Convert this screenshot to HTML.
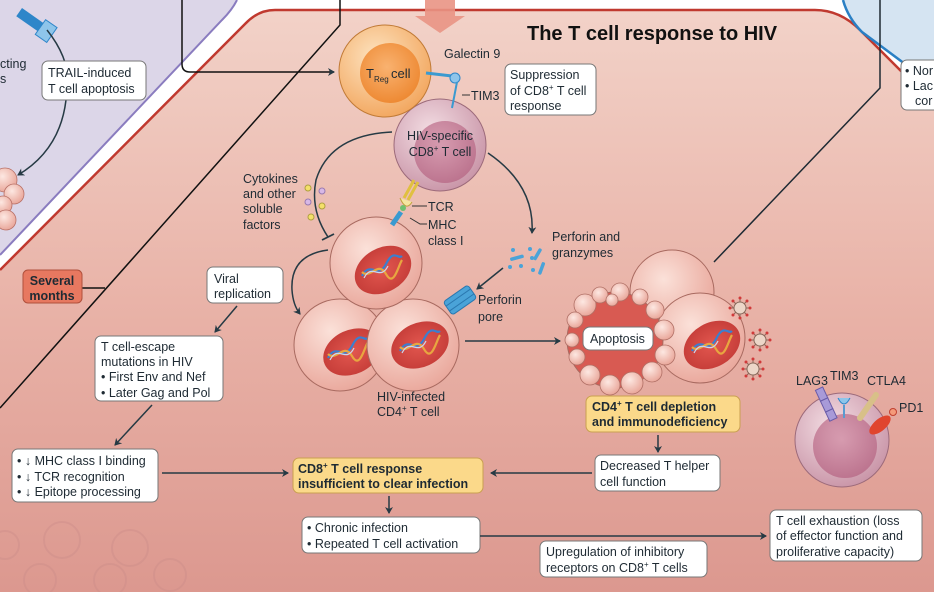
<!DOCTYPE html>
<html><head><meta charset="utf-8"><style>
html,body{margin:0;padding:0;background:#fff}
svg{display:block}
text{font-family:"Liberation Sans",sans-serif;fill:#1e2a33}
.l{font-size:12.5px}
.b{font-weight:bold}
</style></head><body>
<svg width="934" height="592" viewBox="0 0 934 592" xmlns="http://www.w3.org/2000/svg">
<defs>
<linearGradient id="bg" x1="0" y1="0" x2="0" y2="1">
<stop offset="0" stop-color="#f2d2c8"/><stop offset="0.5" stop-color="#e9b3a8"/><stop offset="1" stop-color="#dc988f"/></linearGradient>
<radialGradient id="cell" cx="0.4" cy="0.35" r="0.7"><stop offset="0" stop-color="#fbe1d9"/><stop offset="1" stop-color="#e9a69a"/></radialGradient>
<radialGradient id="nuc" cx="0.5" cy="0.5" r="0.6"><stop offset="0" stop-color="#e2574f"/><stop offset="1" stop-color="#c23a36"/></radialGradient>
<radialGradient id="treg" cx="0.4" cy="0.35" r="0.7"><stop offset="0" stop-color="#fde3c0"/><stop offset="1" stop-color="#f2a55c"/></radialGradient>
<radialGradient id="tregin" cx="0.45" cy="0.4" r="0.6"><stop offset="0" stop-color="#f9b270"/><stop offset="1" stop-color="#ee8a34"/></radialGradient>
<radialGradient id="cd8" cx="0.4" cy="0.35" r="0.7"><stop offset="0" stop-color="#f3dde3"/><stop offset="1" stop-color="#c893a6"/></radialGradient>
<radialGradient id="cd8in" cx="0.45" cy="0.4" r="0.6"><stop offset="0" stop-color="#d28fa6"/><stop offset="1" stop-color="#b86a87"/></radialGradient>
<radialGradient id="bleb" cx="0.4" cy="0.35" r="0.7"><stop offset="0" stop-color="#fde8e2"/><stop offset="1" stop-color="#e8a396"/></radialGradient>
<marker id="ar" markerWidth="8" markerHeight="8" refX="6" refY="4" orient="auto" markerUnits="userSpaceOnUse"><path d="M0,0 L7,4 L0,8 L2,4 Z" fill="#263a44"/></marker>
<g id="dna"><path d="M-20,8 C-12,-8 -4,12 4,-4 S16,-8 20,-12" stroke="#3a7fd0" stroke-width="2.2" fill="none"/><path d="M-20,4 C-12,12 -4,-8 4,6 S16,-2 20,-8" stroke="#e8a640" stroke-width="2.2" fill="none"/><path d="M-18,10 C-10,-6 -2,14 6,-2" stroke="#c8d8f0" stroke-width="1.2" fill="none"/></g>
<g id="vir"><circle r="6" fill="#ecd6c8" stroke="#8a6a5c" stroke-width="1"/><g stroke="#8a6a5c" stroke-width="1"><line x1="0" y1="-6" x2="0" y2="-10"/><line x1="0" y1="6" x2="0" y2="10"/><line x1="-6" y1="0" x2="-10" y2="0"/><line x1="6" y1="0" x2="10" y2="0"/><line x1="4" y1="4" x2="7" y2="7"/><line x1="-4" y1="-4" x2="-7" y2="-7"/><line x1="4" y1="-4" x2="7" y2="-7"/><line x1="-4" y1="4" x2="-7" y2="7"/></g><g fill="#d03a3a"><circle cx="0" cy="-10" r="1.5"/><circle cx="0" cy="10" r="1.5"/><circle cx="-10" cy="0" r="1.5"/><circle cx="10" cy="0" r="1.5"/><circle cx="7" cy="7" r="1.5"/><circle cx="-7" cy="-7" r="1.5"/><circle cx="7" cy="-7" r="1.5"/><circle cx="-7" cy="7" r="1.5"/></g></g>
</defs>
<rect width="934" height="592" fill="#fff"/>
<path d="M0,0 L237,0 Q232,10 222,20 L0,255 Z" fill="#dcd6e8"/>
<path d="M237,0 Q232,10 222,20 L0,255" fill="none" stroke="#8a7cbf" stroke-width="2"/>
<path d="M275,10 L815,10 Q840,10 860,30 L902,72 L934,95 L934,592 L0,592 L0,270 L245,24 Q258,10 275,10 Z" fill="url(#bg)"/>
<path d="M0,270 L245,24 Q258,10 275,10 L815,10 Q840,10 860,30 L902,72 L934,95" fill="none" stroke="#c0392f" stroke-width="2.5"/>
<path d="M843,0 Q848,18 862,32 L900,62 L934,62 L934,0 Z" fill="#d5e4f2"/>
<path d="M843,0 Q848,18 862,32 L905,64" fill="none" stroke="#2a7fc4" stroke-width="2.5"/>
<g fill="none" stroke="#c98a88" stroke-width="2" opacity="0.35">
<circle cx="62" cy="540" r="18"/><circle cx="130" cy="548" r="18"/><circle cx="40" cy="580" r="16"/><circle cx="110" cy="580" r="16"/><circle cx="170" cy="575" r="16"/><circle cx="5" cy="545" r="14"/></g>
<path d="M182,0 L182,64 Q182,72 190,72 L334,72" fill="none" stroke="#111" stroke-width="1.5" marker-end="url(#ar)"/>
<path d="M340,0 L340,25 L0,408" fill="none" stroke="#111" stroke-width="1.5"/>
<path d="M880,0 L880,88 L714,262" fill="none" stroke="#1e2a33" stroke-width="1.5"/>
<line x1="82" y1="288" x2="105" y2="288" stroke="#111" stroke-width="1.5"/>
<path d="M425,0 L455,0 L455,16 L465,16 L440,33 L415,16 L425,16 Z" fill="#e99484" opacity="0.9"/>
<text x="527" y="40" font-size="20" class="b" style="fill:#111">The T cell response to HIV</text>
<text x="0" y="68" class="l">cting</text><text x="0" y="83" class="l">s</text>
<g transform="translate(22,8) rotate(35)"><rect x="0" y="0" width="30" height="10" fill="#2e86c9"/><rect x="26" y="-4" width="14" height="18" fill="#8ec5ea" stroke="#2e86c9"/></g>
<path d="M47,30 Q75,65 66,100 M66,100 Q60,150 18,175" fill="none" stroke="#263a44" stroke-width="1.5" marker-end="url(#ar)"/>
<rect x="42" y="61" width="104" height="39" rx="6" fill="#fff" stroke="#777"/>
<text x="48" y="77" class="l">TRAIL-induced</text><text x="48" y="93" class="l">T cell apoptosis</text>
<g fill="url(#bleb)" stroke="#b87066" stroke-width="0.8"><circle cx="5" cy="180" r="12"/><circle cx="14" cy="194" r="10"/><circle cx="3" cy="205" r="9"/><circle cx="6" cy="220" r="10"/></g>
<rect x="23" y="270" width="59" height="33" rx="5" fill="#e77860" stroke="#b0503c"/>
<text x="52" y="285" text-anchor="middle" font-size="12.5" class="b">Several</text><text x="52" y="300" text-anchor="middle" font-size="12.5" class="b">months</text>
<circle cx="440" cy="145" r="46" fill="url(#cd8)" stroke="#9c6a7a"/>
<circle cx="445" cy="152" r="31" fill="url(#cd8in)" opacity="0.8"/>
<circle cx="385" cy="71" r="46" fill="url(#treg)" stroke="#c07a36"/>
<circle cx="390" cy="73" r="30" fill="url(#tregin)"/>
<text x="366" y="78" font-size="13">T</text><text x="374" y="82" font-size="8">Reg</text><text x="391" y="78" font-size="13">cell</text>
<path d="M426,73 L452,76" stroke="#3a9ad0" stroke-width="3"/><circle cx="455" cy="78" r="5" fill="#8ec5ea" stroke="#2e86c9"/>
<path d="M457,82 L452,108" stroke="#3a9ad0" stroke-width="2"/>
<text x="444" y="58" class="l">Galectin 9</text>
<line x1="462" y1="95" x2="470" y2="95" stroke="#333"/><text x="471" y="100" class="l">TIM3</text>
<rect x="505" y="64" width="91" height="51" rx="6" fill="#fff" stroke="#777"/>
<text x="510" y="79" class="l">Suppression</text><text x="510" y="95" class="l">of CD8<tspan font-size="8" dy="-5">+</tspan><tspan dy="5"> T cell</tspan></text><text x="510" y="110" class="l">response</text>
<text x="440" y="140" text-anchor="middle" class="l">HIV-specific</text><text x="440" y="156" text-anchor="middle" class="l">CD8<tspan font-size="8" dy="-5">+</tspan><tspan dy="5"> T cell</tspan></text>
<text x="243" y="183" class="l">Cytokines</text><text x="243" y="198" class="l">and other</text><text x="243" y="213" class="l">soluble</text><text x="243" y="229" class="l">factors</text>
<g stroke-width="1"><circle cx="308" cy="188" r="3" fill="#f4e06a" stroke="#b0a040"/><circle cx="322" cy="191" r="3" fill="#d8b8e6" stroke="#9a7ab0"/><circle cx="308" cy="202" r="3" fill="#d8b8e6" stroke="#9a7ab0"/><circle cx="322" cy="206" r="3" fill="#f4e06a" stroke="#b0a040"/><circle cx="311" cy="217" r="3" fill="#f4e06a" stroke="#b0a040"/></g>
<path d="M392,132 Q330,135 316,180 Q310,210 328,237" fill="none" stroke="#263a44" stroke-width="1.5"/>
<line x1="322" y1="240" x2="334" y2="234" stroke="#263a44" stroke-width="1.8"/>
<path d="M488,153 Q535,185 532,233" fill="none" stroke="#263a44" stroke-width="1.5" marker-end="url(#ar)"/>
<text x="552" y="241" class="l">Perforin and</text><text x="552" y="257" class="l">granzymes</text>
<g fill="#4aa3d8"><circle cx="513" cy="250" r="2"/><circle cx="530" cy="249" r="2"/><circle cx="532" cy="258" r="2"/><circle cx="510" cy="267" r="2"/><circle cx="521" cy="266" r="2"/><circle cx="533" cy="270" r="2"/><rect x="510" y="256" width="14" height="3.5" rx="1.5" transform="rotate(-15 517 258)"/><rect x="536" y="248" width="3.5" height="13" rx="1.5" transform="rotate(30 538 254)"/><rect x="540" y="262" width="3.5" height="13" rx="1.5" transform="rotate(20 542 268)"/></g>
<line x1="503" y1="268" x2="477" y2="289" stroke="#263a44" stroke-width="1.5" marker-end="url(#ar)"/>
<circle cx="340" cy="345" r="46" fill="url(#cell)" stroke="#a86a60"/>
<ellipse cx="352" cy="352" rx="30" ry="22" transform="rotate(-25 352 352)" fill="url(#nuc)"/>
<use href="#dna" x="348" y="350"/>
<circle cx="413" cy="345" r="46" fill="url(#cell)" stroke="#a86a60"/>
<ellipse cx="420" cy="345" rx="30" ry="22" transform="rotate(-25 420 345)" fill="url(#nuc)"/>
<use href="#dna" x="420" y="343"/>
<circle cx="376" cy="263" r="46" fill="url(#cell)" stroke="#a86a60"/>
<ellipse cx="383" cy="270" rx="30" ry="22" transform="rotate(-30 383 270)" fill="url(#nuc)"/>
<use href="#dna" x="382" y="268"/>
<path d="M418,182 L408,200 M414,180 L404,198" stroke="#e0c040" stroke-width="3"/>
<path d="M400,198 Q406,212 412,202" fill="#f4e6a0" stroke="#c0a040"/>
<circle cx="403" cy="208" r="3" fill="#6fc06f"/>
<path d="M401,212 L392,225" stroke="#3a9ad0" stroke-width="5"/>
<path d="M412,206 L418,206 L427,206" stroke="#333" fill="none"/><text x="428" y="211" class="l">TCR</text>
<path d="M410,218 L420,224 L427,224" stroke="#333" fill="none"/><text x="428" y="229" class="l">MHC</text><text x="428" y="245" class="l">class I</text>
<g transform="translate(460,300) rotate(-35)"><rect x="-15" y="-8" width="30" height="16" rx="3" fill="#4aa3d8" stroke="#2a78b0"/><line x1="-15" y1="-3" x2="15" y2="-3" stroke="#2a78b0"/><line x1="-15" y1="3" x2="15" y2="3" stroke="#2a78b0"/></g>
<text x="478" y="304" class="l">Perforin</text><text x="478" y="321" class="l">pore</text>
<path d="M328,250 Q290,255 292,290 Q293,305 300,314" fill="none" stroke="#263a44" stroke-width="1.5" marker-end="url(#ar)"/>
<rect x="207" y="267" width="76" height="36" rx="6" fill="#fff" stroke="#777"/>
<text x="214" y="283" class="l">Viral</text><text x="214" y="298" class="l">replication</text>
<text x="377" y="401" class="l">HIV-infected</text><text x="377" y="416" class="l">CD4<tspan font-size="8" dy="-5">+</tspan><tspan dy="5"> T cell</tspan></text>
<line x1="237" y1="306" x2="215" y2="332" stroke="#263a44" stroke-width="1.5" marker-end="url(#ar)"/>
<rect x="95" y="336" width="128" height="65" rx="6" fill="#fff" stroke="#777"/>
<text x="101" y="351" class="l">T cell-escape</text><text x="101" y="366" class="l">mutations in HIV</text><text x="101" y="381" class="l">• First Env and Nef</text><text x="101" y="397" class="l">• Later Gag and Pol</text>
<line x1="152" y1="405" x2="115" y2="445" stroke="#263a44" stroke-width="1.5" marker-end="url(#ar)"/>
<rect x="12" y="449" width="146" height="53" rx="6" fill="#fff" stroke="#777"/>
<text x="17" y="465" class="l">• ↓ MHC class I binding</text><text x="17" y="481" class="l">• ↓ TCR recognition</text><text x="17" y="496" class="l">• ↓ Epitope processing</text>
<line x1="162" y1="473" x2="288" y2="473" stroke="#263a44" stroke-width="1.5" marker-end="url(#ar)"/>
<rect x="293" y="458" width="190" height="35" rx="6" fill="#fbd98a" stroke="#c9a050"/>
<text x="298" y="473" font-size="12.5" class="b">CD8<tspan font-size="8" dy="-5">+</tspan><tspan dy="5"> T cell response</tspan></text>
<text x="298" y="488" font-size="12.5" class="b">insufficient to clear infection</text>
<line x1="389" y1="496" x2="389" y2="513" stroke="#263a44" stroke-width="1.5" marker-end="url(#ar)"/>
<rect x="302" y="517" width="178" height="36" rx="6" fill="#fff" stroke="#777"/>
<text x="307" y="532" class="l">• Chronic infection</text><text x="307" y="548" class="l">• Repeated T cell activation</text>
<line x1="480" y1="536" x2="766" y2="536" stroke="#263a44" stroke-width="1.5" marker-end="url(#ar)"/>
<rect x="540" y="541" width="167" height="36" rx="6" fill="#fff" stroke="#777"/>
<text x="546" y="556" class="l">Upregulation of inhibitory</text><text x="546" y="572" class="l">receptors on CD8<tspan font-size="8" dy="-5">+</tspan><tspan dy="5"> T cells</tspan></text>
<line x1="465" y1="341" x2="560" y2="341" stroke="#263a44" stroke-width="1.5" marker-end="url(#ar)"/>
<circle cx="672" cy="292" r="42" fill="url(#cell)" stroke="#a86a60"/>
<circle cx="700" cy="338" r="45" fill="url(#cell)" stroke="#a86a60"/>
<ellipse cx="712" cy="345" rx="30" ry="22" transform="rotate(-30 712 345)" fill="url(#nuc)"/>
<use href="#dna" x="712" y="343"/>
<circle cx="615" cy="340" r="48" fill="#d85a52" stroke="#a86a60"/>
<g fill="url(#bleb)" stroke="#b07066" stroke-width="0.8">
<circle cx="585" cy="305" r="11"/><circle cx="600" cy="295" r="8"/><circle cx="620" cy="292" r="9"/><circle cx="640" cy="297" r="8"/><circle cx="655" cy="310" r="9"/><circle cx="664" cy="330" r="10"/><circle cx="665" cy="355" r="10"/><circle cx="652" cy="372" r="10"/><circle cx="632" cy="383" r="11"/><circle cx="610" cy="385" r="10"/><circle cx="590" cy="375" r="10"/><circle cx="577" cy="357" r="8"/><circle cx="572" cy="340" r="7"/><circle cx="575" cy="320" r="8"/><circle cx="612" cy="300" r="6"/></g>
<rect x="583" y="327" width="70" height="23" rx="7" fill="#fff" stroke="#777"/>
<text x="590" y="343" class="l">Apoptosis</text>
<use href="#vir" x="740" y="308"/><use href="#vir" x="760" y="340"/><use href="#vir" x="753" y="369"/>
<rect x="586" y="396" width="154" height="36" rx="6" fill="#fbd98a" stroke="#c9a050"/>
<text x="592" y="411" font-size="12.5" class="b">CD4<tspan font-size="8" dy="-5">+</tspan><tspan dy="5"> T cell depletion</tspan></text>
<text x="592" y="426" font-size="12.5" class="b">and immunodeficiency</text>
<line x1="658" y1="435" x2="658" y2="452" stroke="#263a44" stroke-width="1.5" marker-end="url(#ar)"/>
<rect x="595" y="455" width="125" height="36" rx="6" fill="#fff" stroke="#777"/>
<text x="600" y="470" class="l">Decreased T helper</text><text x="600" y="486" class="l">cell function</text>
<line x1="592" y1="473" x2="491" y2="473" stroke="#263a44" stroke-width="1.5" marker-end="url(#ar)"/>
<circle cx="842" cy="440" r="47" fill="url(#cd8)" stroke="#9c6a7a"/>
<circle cx="845" cy="446" r="32" fill="url(#cd8in)" opacity="0.8"/>
<g transform="rotate(-25 822 395)"><rect x="818" y="388" width="8" height="12" fill="#a89ad8" stroke="#6a5ca8"/><rect x="818" y="400" width="8" height="12" fill="#a89ad8" stroke="#6a5ca8"/><rect x="818" y="412" width="8" height="10" fill="#a89ad8" stroke="#6a5ca8"/></g>
<line x1="844" y1="405" x2="844" y2="418" stroke="#5a9ad0" stroke-width="2"/><path d="M838,398 Q844,410 850,398" fill="#8ec5ea" stroke="#2e86c9"/>
<path d="M876,395 L860,418" stroke="#d8c088" stroke-width="6" stroke-linecap="round"/>
<ellipse cx="880" cy="425" rx="6" ry="13" transform="rotate(50 880 425)" fill="#e0452e"/><circle cx="893" cy="412" r="3.5" fill="#f49a7a" stroke="#c04030"/>
<text x="796" y="385" class="l">LAG3</text><text x="830" y="380" class="l">TIM3</text><text x="867" y="385" class="l">CTLA4</text><text x="899" y="412" class="l">PD1</text>
<rect x="770" y="510" width="152" height="51" rx="6" fill="#fff" stroke="#777"/>
<text x="776" y="525" class="l">T cell exhaustion (loss</text><text x="776" y="540" class="l">of effector function and</text><text x="776" y="556" class="l">proliferative capacity)</text>
<rect x="901" y="60" width="40" height="50" rx="6" fill="#fff" stroke="#777"/>
<text x="905" y="75" class="l">• Nor</text><text x="905" y="90" class="l">• Lac</text><text x="915" y="105" class="l">cor</text>
</svg>
</body></html>
